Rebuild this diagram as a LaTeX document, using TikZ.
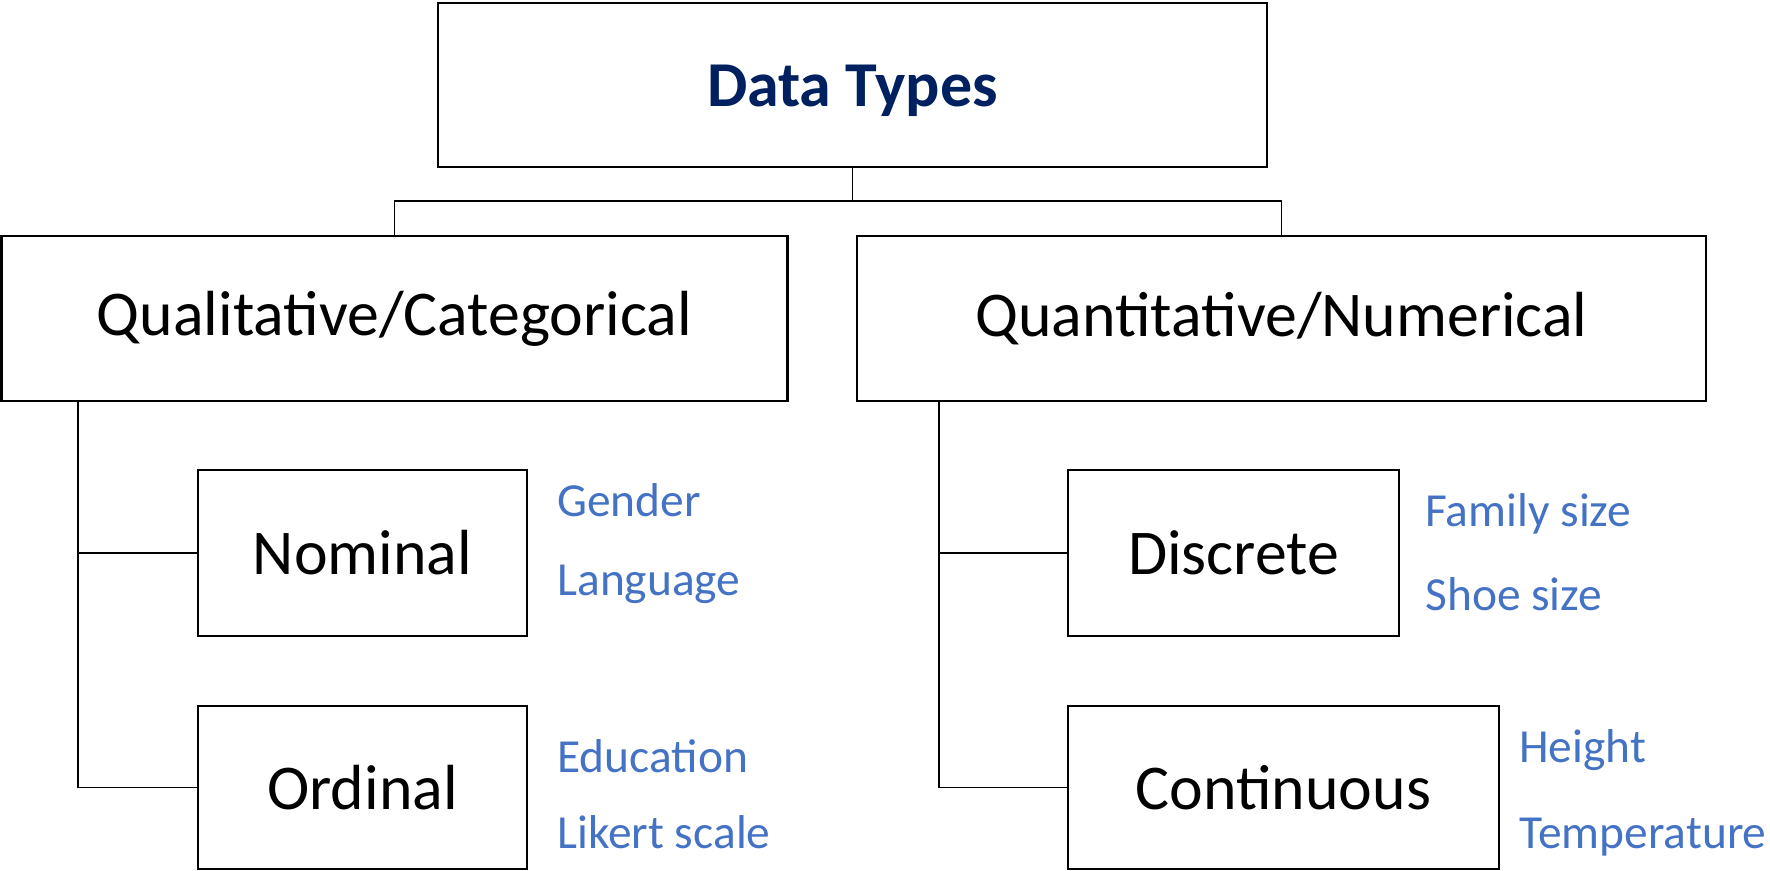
\documentclass[tikz,border=0pt]{standalone}
\usepackage{fontspec}
\setmainfont{Carlito}
\usepackage{xcolor}
\definecolor{navy}{HTML}{002060}
\definecolor{exblue}{HTML}{4472C4}

\begin{document}
\begin{tikzpicture}[
            box/.style = {shape=rectangle, draw=black, line width=1.3pt, inner sep=0pt,
                          font=\fontsize{36.3}{42}\selectfont}, % class boxes
            example/.style = {anchor=base west, inner sep=0pt, text=exblue,
                          font=\fontsize{27}{32}\selectfont}, % blue examples
            link/.style = {draw=black, line width=1.1pt} % tree lines
        ]
\useasboundingbox (0,0) rectangle (35.4,-17.42);

% root
\node[box, minimum width=16.58cm, minimum height=3.28cm, text=navy,
      text height=25pt, text depth=0pt,
      font=\fontsize{36.4}{42}\selectfont\bfseries] (types) at (17.05,-1.7) {Data Types};

% two main groups
\node[box, minimum width=15.72cm, minimum height=3.3cm] (qual) at (7.89,-6.37) {Qualitative/Categorical};
\node[box, minimum width=16.98cm, minimum height=3.3cm] (quant) at (25.63,-6.37) {Quantitative/Numerical};

% sub types
\node[box, minimum width=6.58cm, minimum height=3.32cm] (nom) at (7.25,-11.06) {Nominal};
\node[box, minimum width=6.58cm, minimum height=3.26cm] (ord) at (7.25,-15.75) {Ordinal};
\node[box, minimum width=6.62cm, minimum height=3.32cm] (disc) at (24.67,-11.06) {Discrete};
\node[box, minimum width=8.62cm, minimum height=3.26cm] (cont) at (25.67,-15.75) {Continuous};

% examples
\node[example] (gender) at (11.14,-10.34) {Gender};
\node[example] (lang) at (11.14,-11.9) {Language};
\node[example] (edu) at (11.14,-15.44) {Education};
\node[example] (likert) at (11.14,-16.96) {Likert scale};
\node[example] (family) at (28.5,-10.54) {Family size};
\node[example] (shoe) at (28.5,-12.2) {Shoe size};
\node[example] (height) at (30.38,-15.24) {Height};
\node[example] (temp) at (30.38,-16.96) {Temperature};

% connectors
\coordinate (split) at (types.south |- 0,-4.02);
\path[link] (types.south) -- (split);
\path[link] (split) -| (qual.north);
\path[link] (split) -| (quant.north);

\path[link] ([xshift=1.56cm]qual.south west) |- (nom.west);
\path[link] ([xshift=1.56cm]qual.south west) |- (ord.west);
\path[link] ([xshift=1.66cm]quant.south west) |- (disc.west);
\path[link] ([xshift=1.66cm]quant.south west) |- (cont.west);
\end{tikzpicture}
\end{document}
